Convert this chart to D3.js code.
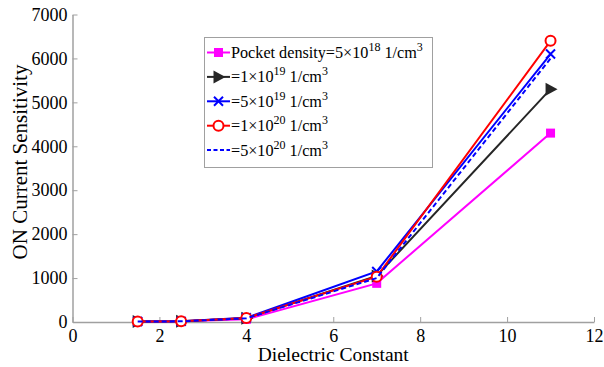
<!DOCTYPE html>
<html>
<head>
<meta charset="utf-8">
<script src="https://cdn.jsdelivr.net/npm/d3@7"></script>
<style>
  html, body { margin: 0; padding: 0; background: #fff; }
  svg text { font-family: "Liberation Serif", "Times New Roman", serif; fill: #000; }
</style>
</head>
<body>
<svg id="chart" width="604" height="367"></svg>
<script>
// Dielectric constants sampled
const dielectric = [1.5, 2.5, 4, 7, 11];

// ON current sensitivity for each pocket doping density
const sens5e18 = [10, 15, 60, 880, 4300];
const sens1e19 = [10, 15, 85, 1050, 5300];
const sens5e19 = [10, 15, 95, 1150, 6100];
const sens1e20 = [10, 15, 90, 1030, 6400];
const sens5e20 = [10, 15, 85, 1000, 6000];

const xTicks = [0, 2, 4, 6, 8, 10, 12];
const yTicks = [0, 1000, 2000, 3000, 4000, 5000, 6000, 7000];

// legend pieces: prefix, mantissa, exponent
const legendPrefix = ["Pocket density=", "=", "=", "=", "="];
const legendMant = ["5", "1", "5", "1", "5"];
const legendExp = ["18", "19", "19", "20", "20"];

const series = [
  { values: sens5e18, color: "#ff00ff", marker: "square", dash: null },
  { values: sens1e19, color: "#262626", marker: "triangle", dash: null },
  { values: sens5e19, color: "#0000ff", marker: "cross", dash: null },
  { values: sens1e20, color: "#ff0000", marker: "circle", dash: null },
  { values: sens5e20, color: "#0000ff", marker: null, dash: "5,3" }
];

const svg = d3.select("#chart");
const x = d3.scaleLinear().domain([0, 12]).range([72.5, 594]);
const y = d3.scaleLinear().domain([0, 7000]).range([322, 14.5]);

const axisColor = "#a0a0a0";

// axes with inward ticks
const gx = svg.append("g").attr("transform", `translate(0,${y(0)})`)
  .call(d3.axisBottom(x).tickValues(xTicks).tickSize(-5).tickPadding(10).tickSizeOuter(0).tickFormat(d3.format("d")));
const gy = svg.append("g").attr("transform", `translate(${x(0)},0)`)
  .call(d3.axisLeft(y).tickValues(yTicks).tickSize(-5).tickPadding(2).tickSizeOuter(0).tickFormat(d3.format("d")));
[gx, gy].forEach(g => {
  g.select(".domain").attr("stroke", axisColor).attr("stroke-width", 1.5);
  g.selectAll(".tick line").attr("stroke", axisColor).attr("stroke-width", 1);
  g.selectAll(".tick text").attr("font-size", 18).attr("font-family", "Liberation Serif").attr("fill", "#000");
});
gx.selectAll(".tick text").attr("dy", "0.55em");
gy.selectAll(".tick text").attr("dx", "-3");

// axis titles
svg.append("text").attr("x", x(6)).attr("y", 361).attr("text-anchor", "middle")
  .attr("font-size", 19.5).text("Dielectric Constant");
svg.append("text").attr("transform", `translate(27,162) rotate(-90)`).attr("text-anchor", "middle")
  .attr("font-size", 21).text("ON Current Sensitivity");

const line = d3.line().x((d, i) => x(dielectric[i])).y(d => y(d));

function drawMarker(g, type, color, cx, cy) {
  if (type === "square") {
    g.append("rect").attr("x", cx - 4.5).attr("y", cy - 4.5).attr("width", 9).attr("height", 9).attr("fill", color);
  } else if (type === "triangle") {
    g.append("path").attr("d", `M${cx + 7},${cy} L${cx - 5},${cy - 6.5} L${cx - 5},${cy + 6.5} Z`).attr("fill", color);
  } else if (type === "cross") {
    g.append("path").attr("d", `M${cx - 4.5},${cy - 4.5} L${cx + 4.5},${cy + 4.5} M${cx - 4.5},${cy + 4.5} L${cx + 4.5},${cy - 4.5}`)
      .attr("stroke", color).attr("stroke-width", 2).attr("fill", "none");
  } else if (type === "circle") {
    g.append("circle").attr("cx", cx).attr("cy", cy).attr("r", 5).attr("fill", "#fff").attr("stroke", color).attr("stroke-width", 2);
  }
}

series.forEach(s => {
  const g = svg.append("g");
  g.append("path").datum(s.values).attr("d", line).attr("fill", "none")
    .attr("stroke", s.color).attr("stroke-width", 2).attr("stroke-dasharray", s.dash);
  if (s.marker) s.values.forEach((v, i) => drawMarker(g, s.marker, s.color, x(dielectric[i]), y(v)));
});

// legend
const leg = svg.append("g");
leg.append("rect").attr("x", 204.5).attr("y", 37.5).attr("width", 228).attr("height", 130)
  .attr("fill", "#fff").attr("stroke", "#a0a0a0").attr("stroke-width", 1);
series.forEach((s, i) => {
  const cy = 52.5 + i * 24.4;
  const g = leg.append("g");
  g.append("line").attr("x1", 207).attr("x2", 230).attr("y1", cy).attr("y2", cy)
    .attr("stroke", s.color).attr("stroke-width", 2).attr("stroke-dasharray", s.dash ? "4,2.5" : null);
  if (s.marker) drawMarker(g, s.marker, s.color, 218.5, cy);
  const t = g.append("text").attr("x", 231).attr("y", cy + 5.5).attr("font-size", 16.2);
  t.append("tspan").text(`${legendPrefix[i]}${legendMant[i]}\u00d710`);
  t.append("tspan").attr("dy", -7).attr("font-size", 12).text(legendExp[i]);
  t.append("tspan").attr("dy", 7).text("\u00a01/cm");
  t.append("tspan").attr("dy", -7).attr("font-size", 12).text("3");
});
</script>
</body>
</html>
